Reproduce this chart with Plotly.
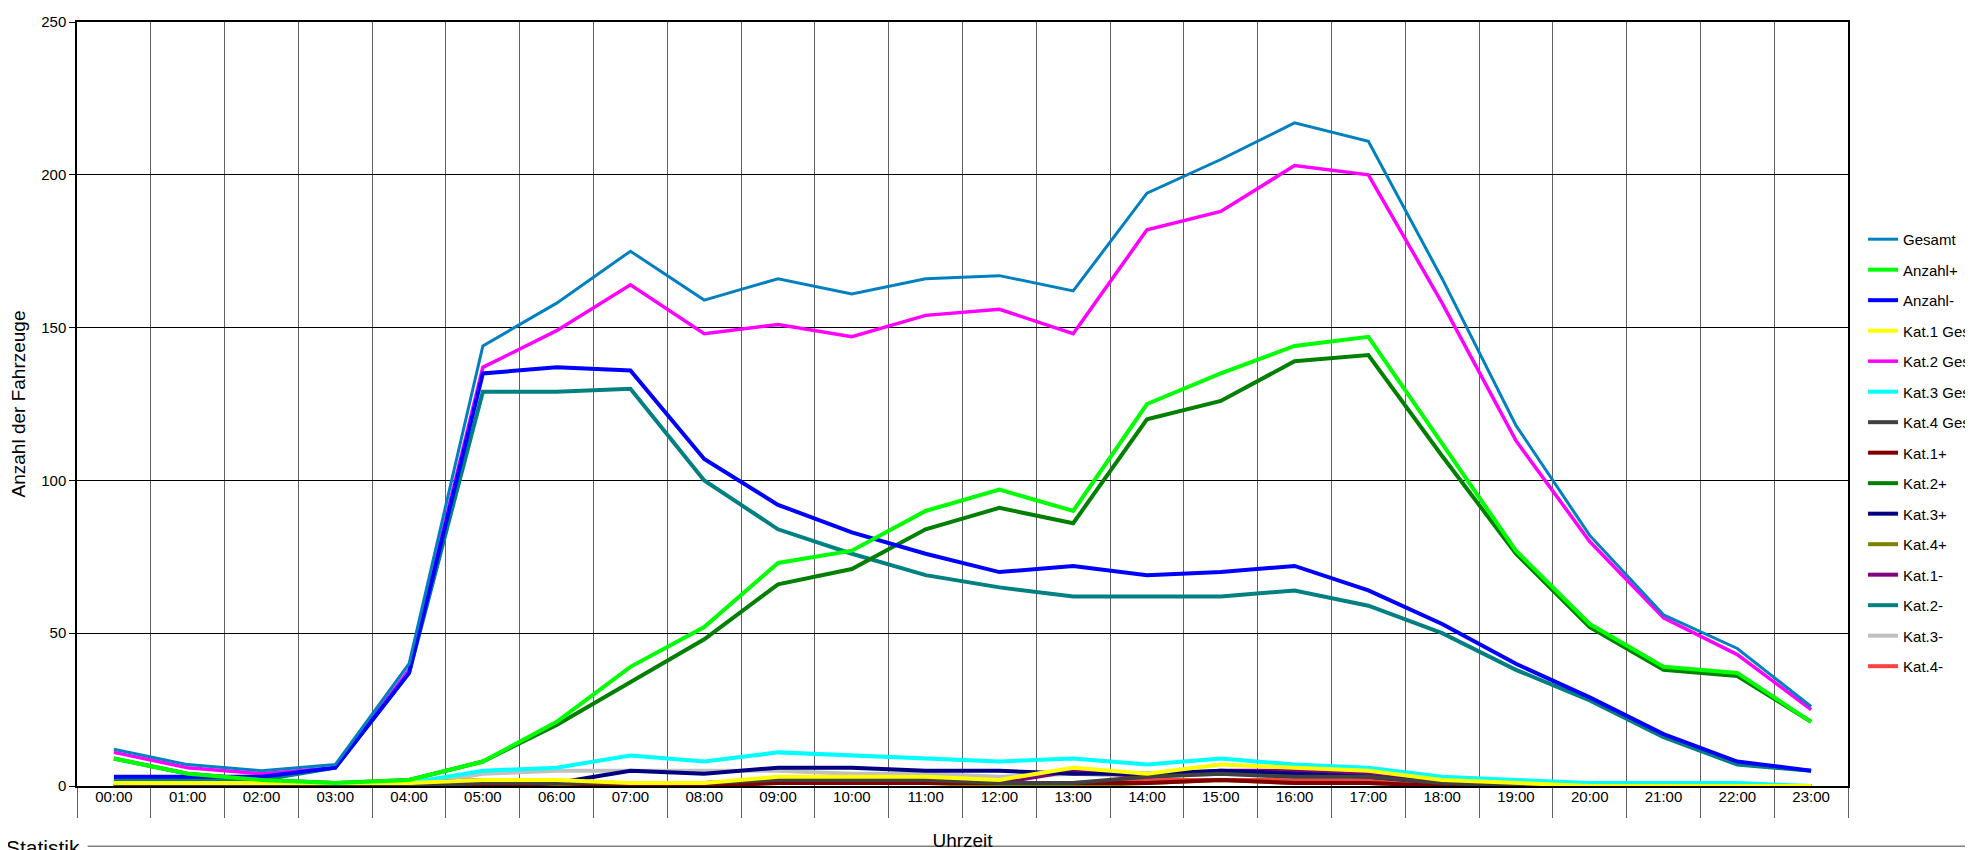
import plotly.graph_objects as go

hours = [f"{h:02d}:00" for h in range(24)]

gesamt   = [12,7,5,7,40,144,158,175,159,166,161,166,167,162,194,205,217,211,166,118,82,56,45,26]
anz_p    = [9,4,2,1,2,8,21,39,52,73,77,90,97,90,125,135,144,147,112,77,53,39,37,21]
anz_m    = [3,3,3,6,37,135,137,136,107,92,83,76,70,72,69,70,72,64,53,40,29,17,8,5]
kat1_g   = [1,1,1,1,1,2,2,1,1,3,3,3,2,6,4,7,6,5,2,1,0,0,0,0]
kat2_g   = [11,6,4,6,38,137,149,164,148,151,147,154,156,148,182,188,203,200,158,113,80,55,43,25]
kat3_g   = [1,1,1,1,1,5,6,10,8,11,10,9,8,9,7,9,7,6,3,2,1,1,1,0]
kat4_g   = [0,0,0,0,0,1,1,1,1,2,2,2,1,1,3,4,3,3,1,0,0,0,0,0]
kat1_p   = [0,0,0,0,0,0,1,0,0,1,1,1,1,1,1,2,1,1,0,0,0,0,0,0]
kat2_p   = [9,4,2,1,2,8,20,34,48,66,71,84,91,86,120,126,139,141,108,76,52,38,36,21]
kat3_p   = [0,0,0,0,0,0,1,5,4,6,6,5,5,4,4,5,4,3,1,1,0,0,0,0]
kat4_p   = [0,0,0,0,0,0,0,0,0,1,1,1,0,0,1,2,1,1,0,0,0,0,0,0]
kat1_m   = [1,1,1,1,1,2,1,1,1,2,2,2,1,5,3,5,5,4,2,1,0,0,0,0]
kat2_m   = [2,2,2,6,37,129,129,130,100,84,76,69,65,62,62,62,64,59,50,38,28,16,7,5]
kat3_m   = [0,0,0,0,0,4,5,5,5,5,4,4,3,4,3,4,3,3,2,1,1,0,0,0]
kat4_m   = [0,0,0,0,0,1,1,1,1,1,1,1,1,1,2,2,2,2,1,0,0,0,0,0]

series = [
    ("Gesamt", gesamt, "#0080c0", 3),
    ("Anzahl+", anz_p, "#00ff00", 4),
    ("Anzahl-", anz_m, "#0000ff", 4),
    ("Kat.1 Gesamt", kat1_g, "#ffff00", 4),
    ("Kat.2 Gesamt", kat2_g, "#ff00ff", 3.5),
    ("Kat.3 Gesamt", kat3_g, "#00ffff", 4),
    ("Kat.4 Gesamt", kat4_g, "#404040", 4),
    ("Kat.1+", kat1_p, "#800000", 4),
    ("Kat.2+", kat2_p, "#008000", 4),
    ("Kat.3+", kat3_p, "#000080", 4),
    ("Kat.4+", kat4_p, "#808000", 4),
    ("Kat.1-", kat1_m, "#800080", 4),
    ("Kat.2-", kat2_m, "#008080", 4),
    ("Kat.3-", kat3_m, "#c0c0c0", 4),
    ("Kat.4-", kat4_m, "#ff4040", 4),
]

fig = go.Figure()
for i in reversed(range(len(series))):
    name, vals, col, w = series[i]
    fig.add_trace(go.Scatter(x=hours, y=vals, name=name, mode="lines",
                             line=dict(color=col, width=w), legendrank=i + 1,
                             legendgroup=f"g{i}"))
fig.add_trace(go.Scatter(x=hours, y=[None]*24, xaxis="x2", showlegend=False, hoverinfo="skip"))

font = "Liberation Sans, Arial, sans-serif"
fig.update_layout(
    width=1973, height=850,
    margin=dict(l=69, r=133, t=14, b=72, autoexpand=False),
    paper_bgcolor="white", plot_bgcolor="white",
    font=dict(family=font, size=14, color="black"),
    showlegend=True,
    legend=dict(x=1.0085, y=0.737, xanchor="left", yanchor="top",
                traceorder="grouped", font=dict(size=15, family=font),
                itemwidth=30, tracegroupgap=8, bgcolor="rgba(0,0,0,0)"),
    xaxis=dict(type="category", categoryarray=hours, tickson="boundaries",
               showgrid=True, gridcolor="#606060", gridwidth=1.3,
               ticks="outside", ticklen=30, tickcolor="#606060",
               showticklabels=False, showline=True, linecolor="black", linewidth=1.5,
               mirror=True, range=[-0.5, 23.5]),
    xaxis2=dict(type="category", categoryarray=hours, overlaying="x", side="bottom",
                range=[-0.5, 23.5], showgrid=False, ticks="", showline=False,
                tickfont=dict(size=15, family=font), anchor="y",
                title=dict(text="Uhrzeit", font=dict(size=19, family=font), standoff=29)),
    yaxis=dict(range=[0, 250], dtick=50, showgrid=True, gridcolor="black", gridwidth=1.2,
               ticks="outside", ticklen=6, tickcolor="black", showline=True,
               linecolor="black", linewidth=1.5, mirror=True, zeroline=False,
               tickfont=dict(size=15, family=font),
               title=dict(text="Anzahl der Fahrzeuge", font=dict(size=19, family=font), standoff=14)),
)
fig.add_annotation(text="Statistik", xref="paper", yref="paper", x=-0.041, y=-0.081,
                   xanchor="left", yanchor="middle", showarrow=False,
                   font=dict(size=21, family=font))
fig.add_shape(type="line", xref="paper", yref="paper", x0=0.006, x1=1.08, y0=-0.079, y1=-0.079,
              line=dict(color="#808080", width=1.5))
fig.write_html("out.html")
